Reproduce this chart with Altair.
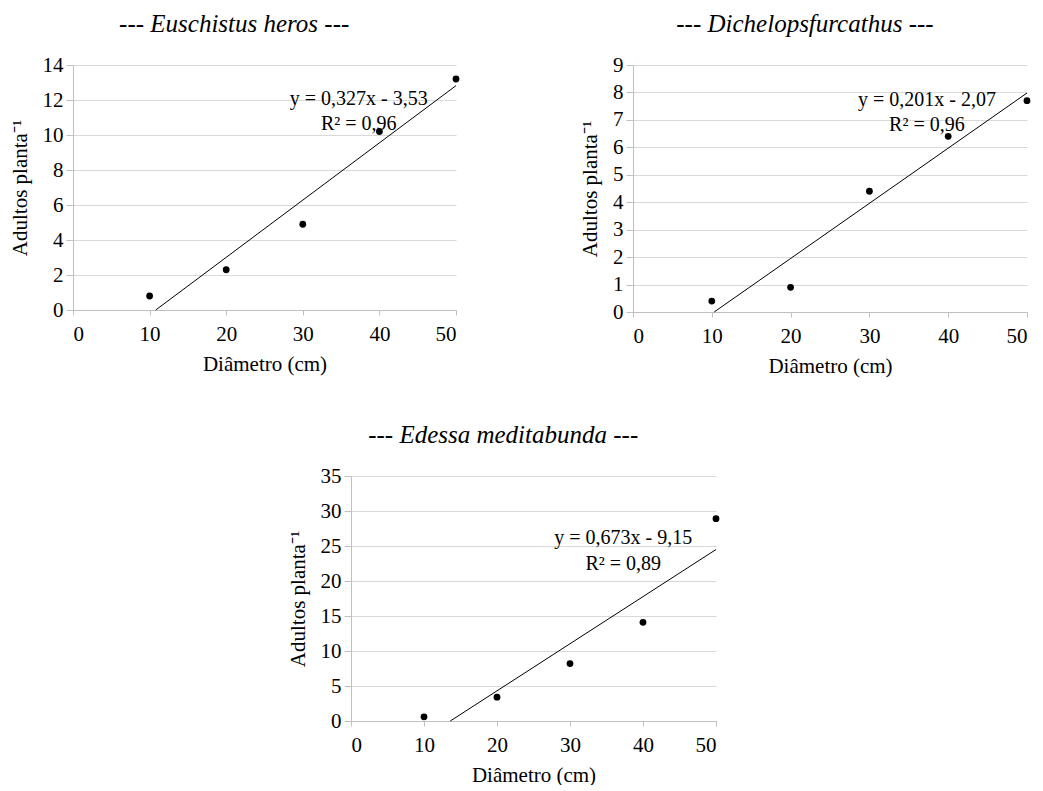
import altair as alt
import pandas as pd

# ---- data ----
diametro = [10, 20, 30, 40, 50]
euschistus = [0.8, 2.3, 4.9, 10.2, 13.2]
dichelops = [0.4, 0.9, 4.4, 6.4, 7.7]
edessa = [0.6, 3.4, 8.2, 14.1, 28.9]

# trend-line end points (as drawn)
eus_line_x = [10.8, 50]
eus_line_y = [0, 12.82]
dic_line_x = [10.3, 50]
dic_line_y = [0, 7.98]
ede_line_x = [13.6, 50]
ede_line_y = [0, 24.5]

titles = ["Euschistus heros", "Dichelopsfurcathus", "Edessa meditabunda"]
equations = ["y = 0,327x - 3,53", "y = 0,201x - 2,07", "y = 0,673x - 9,15"]
r2_labels = ["R² = 0,96", "R² = 0,96", "R² = 0,89"]
y_max = [14, 9, 35]
y_step = [2, 1, 5]
x_ticks = [0, 10, 20, 30, 40, 50]

FONT = "Liberation Serif"
LBL = 21


def panel(vals, lx, ly, title, eq, r2, ymax, ystep, w, h, eq_y, r2_y, eq_x=37.3):
    pts = pd.DataFrame({"x": diametro, "y": vals})
    ln = pd.DataFrame({"x": lx, "y": ly})
    xs = alt.Scale(domain=[0, 50], nice=False, zero=False)
    ys = alt.Scale(domain=[0, ymax], nice=False)
    xax = alt.Axis(values=x_ticks, grid=False, title="Diâmetro (cm)",
                   tickSize=5, labelPadding=8, titlePadding=9,
                   labelOverlap=False, labelFont=FONT, labelFontSize=LBL)
    yax = alt.Axis(values=list(range(0, ymax + 1, ystep)), grid=True,
                   title="Adultos planta⁻¹", tickSize=7, labelPadding=3,
                   titlePadding=12, labelOverlap=False, labelFont=FONT,
                   labelFontSize=LBL)
    X = alt.X("x:Q", scale=xs, axis=xax)
    Y = alt.Y("y:Q", scale=ys, axis=yax)
    points = alt.Chart(pts).mark_circle(size=46, color="black", opacity=1).encode(
        x=X, y=Y
    )
    line = alt.Chart(ln).mark_line(color="black", strokeWidth=1).encode(
        x=X, y=Y
    )
    t1 = alt.Chart(pd.DataFrame({"label": [eq]})).mark_text(
        font=FONT, fontSize=20, color="black", align="center", baseline="middle"
    ).encode(x=alt.XDatum(eq_x, scale=xs, axis=xax),
             y=alt.YDatum(eq_y, scale=ys, axis=yax), text="label:N")
    t2 = alt.Chart(pd.DataFrame({"label": [r2]})).mark_text(
        font=FONT, fontSize=20, color="black", align="center", baseline="middle"
    ).encode(x=alt.XDatum(eq_x, scale=xs, axis=xax),
             y=alt.YDatum(r2_y, scale=ys, axis=yax), text="label:N")
    return alt.layer(points, line, t1, t2).properties(
        width=w, height=h,
        title=alt.TitleParams(
            text="--- " + title + " ---", font=FONT, fontSize=25,
            fontStyle="italic", fontWeight="normal", anchor="middle",
            frame="bounds", offset=17, color="black",
        ),
    )


p1 = panel(euschistus, eus_line_x, eus_line_y, titles[0], equations[0], r2_labels[0],
           y_max[0], y_step[0], 383, 245, 12.06, 10.63)
p2 = panel(dichelops, dic_line_x, dic_line_y, titles[1], equations[1], r2_labels[1],
           y_max[1], y_step[1], 394, 247, 7.71, 6.80)
p3 = panel(edessa, ede_line_x, ede_line_y, titles[2], equations[2], r2_labels[2],
           y_max[2], y_step[2], 365, 245, 26.1, 22.5)

spacer = alt.Chart(pd.DataFrame({"s": [0]})).mark_point(opacity=0).properties(
    width=214, height=10
)

top = alt.hconcat(p1, p2, spacing=119)
bottom = alt.hconcat(spacer, p3, spacing=0)
chart = alt.vconcat(top, bottom, spacing=47).configure_view(
    stroke=None
).configure_axis(
    labelFont=FONT, titleFont=FONT, labelFontSize=LBL, titleFontSize=LBL,
    titleFontWeight="normal", labelColor="black", titleColor="black",
    domainColor="#bfbfbf", tickColor="#bfbfbf", gridColor="#d9d9d9",
    domainWidth=1, gridWidth=1, labelOverlap=False,
).properties(padding={"top": 4, "left": 1, "right": 0, "bottom": 0})

chart.save("out.html", embed_options={"renderer": "svg", "actions": False})
